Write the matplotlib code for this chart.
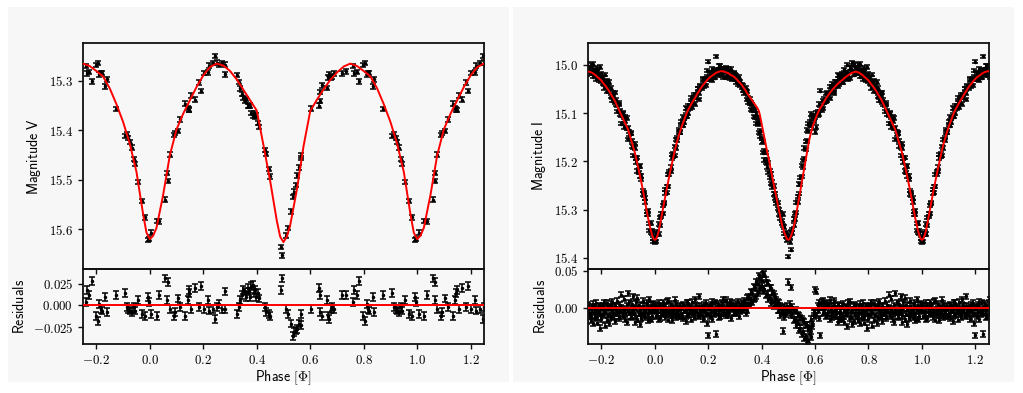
import numpy as np
import matplotlib
matplotlib.use("Agg")
import matplotlib.pyplot as plt
from matplotlib.ticker import FormatStrFormatter, FixedLocator
from matplotlib.patches import Rectangle

plt.rcParams['mathtext.fontset'] = 'cm'
plt.rcParams['font.family'] = ['DejaVu Sans']

# ---------------- V band data (phase in [0,1)) ----------------
V_phase = [0.005,0.026,0.035,0.0575,0.0675,0.066,0.074,0.089,0.093,0.104,
           0.114,0.1325,0.141,0.145,0.148,0.155,0.169,0.1825,0.19,0.201,
           0.218,0.22,0.236,0.245,0.251,0.26,0.27,0.28,0.283,0.326,
           0.333,0.339,0.345,0.349,0.357,0.361,0.366,0.37,0.376,0.38,
           0.385,0.389,0.394,0.399,0.404,0.409,0.429,0.434,0.445,0.451,
           0.489,0.494,0.51,0.516,0.529,0.535,0.541,0.546,0.551,0.557,
           0.564,0.566,0.601,0.634,0.636,0.638,0.645,0.661,0.666,0.67,
           0.676,0.683,0.689,0.72,0.732,0.761,0.764,0.774,0.7825,0.799,
           0.805,0.811,0.816,0.821,0.834,0.838,0.874,0.9075,0.914,0.92,
           0.926,0.932,0.939,0.945,0.954,0.97,0.981,0.9925,0.996]
V_mag = [15.607,15.583,15.584,15.540,15.502,15.486,15.449,15.409,15.405,15.401,
         15.378,15.346,15.355,15.358,15.359,15.330,15.338,15.303,15.320,15.284,
         15.283,15.269,15.264,15.250,15.263,15.268,15.264,15.287,15.267,15.288,
         15.302,15.315,15.326,15.335,15.340,15.337,15.351,15.351,15.350,15.365,
         15.371,15.365,15.373,15.369,15.385,15.393,15.440,15.448,15.478,15.493,
         15.636,15.653,15.613,15.597,15.564,15.535,15.524,15.511,15.491,15.475,
         15.451,15.456,15.356,15.350,15.341,15.322,15.309,15.314,15.293,15.286,
         15.293,15.291,15.285,15.285,15.281,15.270,15.285,15.282,15.301,15.268,
         15.264,15.287,15.284,15.284,15.311,15.297,15.357,15.412,15.407,15.415,
         15.424,15.435,15.458,15.468,15.505,15.543,15.576,15.622,15.620]
V_resid = [-0.010,-0.012,0.012,0.031,0.027,0.006,-0.004,-0.012,-0.008,0.008,
           -0.002,-0.012,0.006,0.014,0.018,-0.004,0.020,-0.002,0.022,-0.004,
           0.006,-0.006,-0.004,-0.016,-0.002,0.002,-0.004,0.016,-0.004,-0.010,
           -0.002,0.006,0.012,0.018,0.016,0.010,0.020,0.016,0.010,0.022,
           0.024,0.014,0.018,0.010,0.014,0.008,-0.002,-0.008,-0.010,-0.012,
           0.018,0.031,-0.004,-0.010,-0.021,-0.035,-0.031,-0.029,-0.027,-0.021,
           -0.023,-0.010,-0.004,0.020,0.012,-0.008,-0.012,0.006,-0.012,-0.016,
           -0.004,-0.002,-0.004,0.012,0.012,0.004,0.018,0.012,0.028,-0.012,
           -0.018,0.002,-0.004,-0.006,0.010,-0.008,0.012,0.014,-0.002,-0.004,
           -0.006,-0.008,-0.002,-0.006,0.006,-0.010,-0.012,0.010,0.004]
V_err = 0.0045

V_model_phase = [0.0,0.0125,0.025,0.05,0.075,0.1,0.125,0.15,0.175,0.2,0.225,0.25,
                 0.275,0.3,0.325,0.35,0.375,0.4,0.425,0.45,0.475,0.4875,0.5,
                 0.5125,0.525,0.55,0.575,0.6,0.625,0.65,0.675,0.7,0.725,0.75,
                 0.775,0.8,0.825,0.85,0.875,0.9,0.925,0.95,0.975,0.9875,1.0]
V_model_mag = [15.620,15.613,15.597,15.530,15.450,15.398,15.366,15.339,15.312,15.289,15.272,15.265,
               15.269,15.280,15.297,15.318,15.339,15.360,15.430,15.502,15.583,15.615,15.626,
               15.615,15.592,15.520,15.432,15.361,15.338,15.317,15.298,15.283,15.271,15.265,
               15.270,15.280,15.291,15.315,15.347,15.383,15.427,15.484,15.570,15.607,15.620]

# ---------------- I band data ----------------
I_phase = [0.000,0.005,0.010,0.015,0.020,0.025,0.030,0.035,0.040,0.045,
           0.050,0.055,0.060,0.065,0.070,0.075,0.080,0.085,0.090,0.095,
           0.100,0.105,0.110,0.115,0.120,0.125,0.130,0.135,0.140,0.145,
           0.150,0.155,0.160,0.165,0.170,0.175,0.180,0.185,0.190,0.195,
           0.200,0.205,0.210,0.215,0.220,0.225,0.230,0.235,0.240,0.245,
           0.250,0.255,0.260,0.265,0.270,0.275,0.280,0.285,0.290,0.295,
           0.300,0.305,0.310,0.315,0.320,0.325,0.330,0.335,0.340,0.345,
           0.350,0.355,0.360,0.365,0.370,0.375,0.380,0.385,0.390,0.395,
           0.400,0.405,0.410,0.415,0.420,0.425,0.430,0.435,0.440,0.445,
           0.450,0.455,0.460,0.465,0.470,0.475,0.480,0.485,0.490,0.495,
           0.500,0.505,0.510,0.515,0.520,0.525,0.530,0.535,0.540,0.545,
           0.550,0.555,0.560,0.565,0.570,0.575,0.580,0.585,0.590,0.595,
           0.600,0.605,0.610,0.615,0.620,0.625,0.630,0.635,0.640,0.645,
           0.650,0.655,0.660,0.665,0.670,0.675,0.680,0.685,0.690,0.695,
           0.700,0.705,0.710,0.715,0.720,0.725,0.730,0.735,0.740,0.745,
           0.750,0.755,0.760,0.765,0.770,0.775,0.780,0.785,0.790,0.795,
           0.800,0.805,0.810,0.815,0.820,0.825,0.830,0.835,0.840,0.845,
           0.850,0.855,0.860,0.865,0.870,0.875,0.880,0.885,0.890,0.895,
           0.900,0.905,0.910,0.915,0.920,0.925,0.930,0.935,0.940,0.945,
           0.950,0.955,0.960,0.965,0.970,0.975,0.980,0.985,0.990,0.995,
           1.000]
I_model = [15.363,15.361,15.354,15.344,15.330,15.315,15.300,15.286,15.271,15.256,
           15.242,15.228,15.215,15.202,15.189,15.177,15.166,15.156,15.146,15.137,
           15.129,15.121,15.114,15.106,15.099,15.093,15.088,15.083,15.078,15.073,
           15.069,15.064,15.059,15.055,15.050,15.046,15.042,15.039,15.035,15.032,
           15.029,15.026,15.024,15.022,15.020,15.018,15.016,15.015,15.014,15.013,
           15.013,15.013,15.014,15.015,15.016,15.017,15.019,15.021,15.022,15.024,
           15.026,15.029,15.032,15.035,15.038,15.041,15.045,15.049,15.053,15.058,
           15.062,15.066,15.070,15.074,15.078,15.082,15.086,15.090,15.096,15.108,
           15.122,15.137,15.151,15.165,15.178,15.190,15.205,15.219,15.233,15.248,
           15.262,15.275,15.289,15.302,15.315,15.328,15.339,15.348,15.355,15.361,
           15.363,15.361,15.355,15.347,15.336,15.323,15.308,15.292,15.276,15.260,
           15.244,15.228,15.212,15.196,15.180,15.165,15.151,15.140,15.130,15.122,
           15.114,15.107,15.100,15.094,15.089,15.085,15.080,15.075,15.070,15.066,
           15.062,15.058,15.055,15.051,15.048,15.045,15.042,15.039,15.037,15.034,
           15.032,15.030,15.027,15.025,15.023,15.021,15.019,15.017,15.016,15.015,
           15.014,15.014,15.015,15.016,15.018,15.020,15.022,15.025,15.027,15.030,
           15.032,15.036,15.040,15.043,15.047,15.051,15.055,15.060,15.065,15.069,
           15.074,15.080,15.086,15.092,15.098,15.104,15.110,15.116,15.122,15.128,
           15.134,15.143,15.153,15.162,15.172,15.181,15.193,15.206,15.218,15.231,
           15.243,15.258,15.273,15.288,15.303,15.318,15.331,15.343,15.353,15.360,
           15.363]
# residuals (mmag) of two observation sets at the phases I_phase[:200]
I_resid_a = [-2,5,-9,-14,3,-6,8,-1,-12,-4,10,-7,-3,-16,1,-8,6,-5,-11,2,
             -6,-13,4,-2,-9,7,-4,-15,0,-7,12,-3,-10,3,-8,-1,-14,5,-6,-20,
             -36,2,-5,9,-8,-2,-34,6,-4,-11,8,1,-6,11,-3,-9,4,-1,7,-5,
             3,-7,9,0,-4,6,-2,10,4,-3,5,14,9,21,12,27,16,33,24,41,
             30,45,26,38,19,33,14,27,10,20,15,6,9,-2,4,-5,-30,2,-8,3,
             35,-3,28,-6,-4,-15,-2,-19,-9,-26,-13,-30,-18,-37,-22,-43,-28,-38,-20,-10,
             -6,22,-3,8,-36,2,10,-5,6,-9,4,11,-2,-12,7,0,-8,5,-15,-4,
             3,-10,-18,2,-6,8,-13,-3,-21,5,-8,1,-16,-5,6,-11,-2,-19,4,-7,
             -14,3,-4,-23,7,-9,0,-12,9,-6,-17,2,-3,-10,5,18,-8,-1,-15,4,
             20,-5,-11,6,-2,-18,8,14,-7,-1,-13,3,-9,-4,7,-16,-2,5,-10,0]
I_resid_b = [4,-10,-3,7,-13,-1,-8,2,-5,9,-15,-2,6,-9,-4,11,-12,0,-7,3,
             -11,5,-3,-17,8,-8,1,-5,9,-12,-2,4,-9,16,-6,2,-11,-3,7,-8,
             1,-10,5,-14,-3,8,-7,3,-12,0,-6,12,-2,-9,5,-4,9,-13,2,-7,
             -5,6,-3,-10,4,-1,8,2,-6,14,15,4,22,8,29,13,35,20,44,28,
             38,22,46,17,34,12,28,7,21,3,5,12,-3,7,-9,1,-6,-12,0,-5,
             -2,6,-9,2,-16,-3,-22,-8,-29,-12,-35,-16,-40,-21,-45,-27,-33,-14,-24,-5,
             25,-9,4,-13,1,9,-6,3,-11,7,-3,-14,2,-7,10,-10,-1,-18,3,-9,
             -14,6,-4,-8,-24,0,9,-11,-2,-17,4,-6,-10,2,-20,-3,7,-12,-5,-26,
             2,-9,8,-5,-15,1,-20,6,-2,-11,3,-7,10,-13,-4,1,-10,13,-6,-18,
             -3,8,-12,-5,16,-9,0,-14,5,-21,-6,10,-3,-12,1,-8,12,-15,-4,6]
I_err = 0.0035

XLIM = (-0.25, 1.25)


def wrap(phase, *vals):
    """Repeat phase-folded values one cycle left/right, keep the shown window."""
    phase = np.asarray(phase, float)
    vals = [np.asarray(v, float) for v in vals]
    ps, outs = [], [[] for _ in vals]
    for s in (-1, 0, 1):
        q = phase + s
        m = (q >= XLIM[0] - 0.01) & (q <= XLIM[1] + 0.01)
        ps.append(q[m])
        for o, v in zip(outs, vals):
            o.append(v[m])
    p = np.concatenate(ps)
    order = np.argsort(p, kind='stable')
    return [p[order]] + [np.concatenate(o)[order] for o in outs]


fig = plt.figure(figsize=(10.23, 3.93), dpi=100)
fig.patch.set_facecolor('white')
W, H = 1023.0, 393.0
for (x0, x1) in ((8, 509), (513, 1014)):
    fig.add_artist(Rectangle((x0 / W, (H - 381.5) / H), (x1 - x0) / W, 374.5 / H,
                             transform=fig.transFigure, facecolor='#f7f7f7',
                             edgecolor='none', zorder=-10))

def box(l, t, r, b):
    return [l / W, (H - b) / H, (r - l) / W, (b - t) / H]

TICK_FS = 9.3
LAB_FS = 10


def style(ax):
    ax.set_facecolor('none')
    for sp in ax.spines.values():
        sp.set_linewidth(1.3)
        sp.set_color('#111111')
    ax.tick_params(labelsize=TICK_FS, width=1.0, length=3.5, color='#111111')
    ax.set_xlim(*XLIM)
    ax.xaxis.set_major_locator(FixedLocator([-0.2, 0.0, 0.2, 0.4, 0.6, 0.8, 1.0, 1.2]))
    ax.xaxis.set_major_formatter(FormatStrFormatter('$%.1f$'))


def panel(left, right, phase, mag, resid, err, mphase, mmag, ylim_main, ylim_res,
          yticks_main, yticks_res, fmt_res, band, eb_kw):
    axm = fig.add_axes(box(left, 43.3, right, 269.3))
    axr = fig.add_axes(box(left, 269.3, right, 344.0), sharex=axm)
    style(axm)
    style(axr)
    p, m, r = wrap(phase, mag, resid)
    axm.errorbar(p, m, yerr=err, **eb_kw)
    mp, mm = wrap(mphase, mmag)
    axm.plot(mp, mm, color='red', lw=1.4, zorder=3)
    axm.set_ylim(*ylim_main)
    axm.yaxis.set_major_locator(FixedLocator(yticks_main))
    axm.yaxis.set_major_formatter(FormatStrFormatter('$%.1f$'))
    axm.tick_params(labelbottom=False)
    axm.set_ylabel(r'$\mathsf{Magnitude\ ' + band + '}$', fontsize=LAB_FS)

    axr.errorbar(p, r, yerr=err, **eb_kw)
    axr.axhline(0.0, color='red', lw=1.4, zorder=3)
    axr.set_ylim(*ylim_res)
    axr.yaxis.set_major_locator(FixedLocator(yticks_res))
    axr.yaxis.set_major_formatter(FormatStrFormatter(fmt_res))
    axr.set_ylabel(r'$\mathsf{Residuals}$', fontsize=LAB_FS)
    axr.set_xlabel(r'$\mathsf{Phase\ [\Phi]}$', fontsize=LAB_FS, labelpad=1)
    axr.set_xlim(*XLIM)
    return axm, axr


V_kw = dict(fmt='.', color='black', ms=3.0, elinewidth=1.1, capsize=2.0,
            capthick=1.1, zorder=2)
I_kw = dict(fmt='.', color='black', ms=3.0, elinewidth=1.1, capsize=2.0,
            capthick=1.1, zorder=2)

panel(83, 484, V_phase, V_mag, V_resid, V_err, V_model_phase, V_model_mag,
      (15.681, 15.224), (-0.0446, 0.0416), [15.3, 15.4, 15.5, 15.6],
      [-0.025, 0.0, 0.025], '$%.3f$', 'V', V_kw)

# I band: two observation sets at the same phases, magnitude = model + residual
I_ph = np.asarray(I_phase[:200])
I_mod = np.asarray(I_model[:200])
I_res = np.concatenate([np.asarray(I_resid_a), np.asarray(I_resid_b)]) / 1000.0
I_obs_phase = np.concatenate([I_ph, I_ph])
I_obs_mag = np.concatenate([I_mod, I_mod]) + I_res

panel(588, 988.7, I_obs_phase, I_obs_mag, I_res, I_err, I_phase, I_model,
      (15.424, 14.955), (-0.0473, 0.0519), [15.0, 15.1, 15.2, 15.3, 15.4],
      [0.0, 0.05], '$%.2f$', 'I', I_kw)

fig.savefig('out.png', dpi=100, facecolor='white')
